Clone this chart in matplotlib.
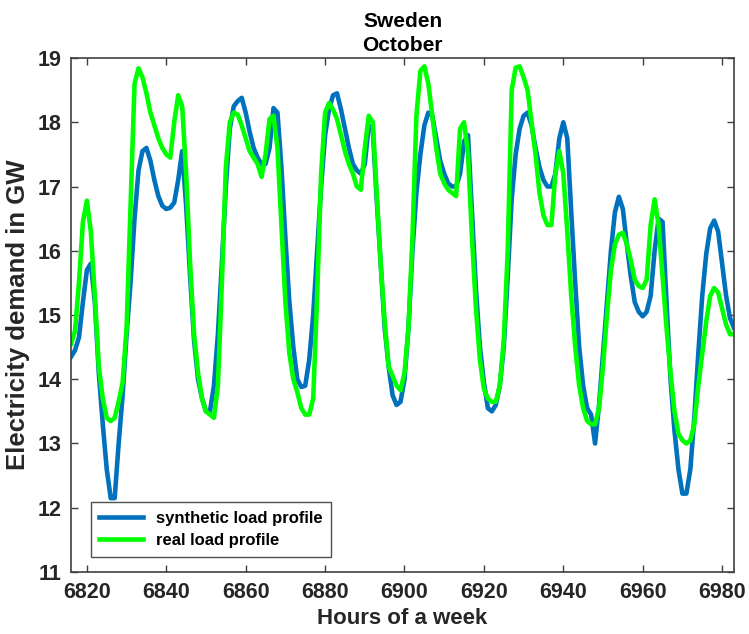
"""Synthetic vs. real load profile for Sweden, one week in October."""
import numpy as np
import matplotlib
matplotlib.use("Agg")
import matplotlib.pyplot as plt

plt.rcParams["font.family"] = ["Liberation Sans", "DejaVu Sans"]
plt.rcParams["font.weight"] = "bold"

# hours 6816 ... 6983 (one week)
hours = np.arange(6816, 6984)

# synthetic load profile, GW (one value per hour)
synthetic = [
    14.35, 14.45, 14.65, 15.2, 15.7, 15.8, 15.2, 14.1, 13.3, 12.6, 12.15, 12.15,
    13.0, 13.75, 14.7, 15.5, 16.5, 17.25, 17.55, 17.6, 17.4, 17.1, 16.85, 16.7,
    16.65, 16.67, 16.75, 17.1, 17.55, 16.7, 15.6, 14.6, 14.0, 13.7, 13.5, 13.5,
    13.9, 14.7, 15.8, 17.0, 17.9, 18.25, 18.33, 18.38, 18.15, 17.85, 17.6, 17.45,
    17.35, 17.35, 17.6, 18.22, 18.15, 17.3, 16.2, 15.2, 14.5, 14.0, 13.88, 13.9,
    14.3, 15.0, 16.0, 17.0, 17.8, 18.2, 18.42, 18.45, 18.2, 17.9, 17.6, 17.35,
    17.25, 17.2, 17.35, 17.95, 17.9, 16.8, 15.8, 14.8, 14.2, 13.75, 13.6, 13.65,
    14.0, 14.8, 16.0, 16.9, 17.5, 17.95, 18.15, 18.1, 17.75, 17.4, 17.2, 17.05,
    17.0, 17.0, 17.2, 17.7, 17.8, 16.6, 15.4, 14.5, 13.95, 13.55, 13.5, 13.6,
    13.9, 14.5, 15.6, 16.8, 17.5, 17.9, 18.1, 18.15, 17.95, 17.6, 17.3, 17.1,
    17.0, 17.0, 17.2, 17.75, 18.0, 17.75, 16.6, 15.5, 14.5, 13.9, 13.55, 13.45,
    13.0, 13.6, 14.4, 15.2, 16.0, 16.6, 16.84, 16.65, 16.1, 15.6, 15.2, 15.05,
    14.98, 15.05, 15.3, 16.0, 16.5, 16.45, 15.2, 14.0, 13.2, 12.6, 12.22, 12.22,
    12.6, 13.4, 14.4, 15.3, 15.95, 16.35, 16.47, 16.3, 15.8, 15.3, 14.95, 14.8,
]

# real load profile, GW
real = [
    14.55, 14.75, 15.5, 16.45, 16.78, 16.3, 15.3, 14.2, 13.7, 13.4, 13.35, 13.4,
    13.65, 13.95, 14.8, 16.7, 18.6, 18.84, 18.7, 18.45, 18.15, 17.95, 17.75, 17.6,
    17.5, 17.45, 18.0, 18.42, 18.25, 17.2, 15.8, 14.7, 14.1, 13.7, 13.5, 13.45,
    13.4, 13.9, 15.5, 17.3, 18.0, 18.15, 18.12, 17.95, 17.75, 17.55, 17.45, 17.35,
    17.15, 17.5, 18.05, 18.1, 17.6, 16.4, 15.2, 14.4, 14.0, 13.8, 13.55, 13.45,
    13.45, 13.7, 15.3, 17.2, 18.15, 18.3, 18.2, 18.05, 17.8, 17.55, 17.35, 17.2,
    17.0, 16.95, 17.6, 18.1, 18.0, 16.9, 15.8, 14.9, 14.2, 14.05, 13.9, 13.83,
    14.1, 14.8, 16.2, 18.1, 18.8, 18.87, 18.6, 18.1, 17.6, 17.2, 17.05, 16.95,
    16.9, 16.85, 17.9, 18.0, 17.5, 16.2, 15.1, 14.3, 13.85, 13.7, 13.65, 13.65,
    13.9, 14.6, 16.0, 18.5, 18.85, 18.87, 18.7, 18.5, 18.0, 17.5, 16.9, 16.55,
    16.4, 16.4, 17.2, 17.55, 17.2, 16.3, 15.3, 14.5, 13.9, 13.55, 13.35, 13.3,
    13.3, 13.55, 14.2, 15.0, 15.7, 16.1, 16.25, 16.28, 16.1, 15.85, 15.55, 15.45,
    15.42, 15.55, 16.4, 16.8, 16.4, 15.6, 14.8, 14.1, 13.5, 13.15, 13.05, 13.0,
    13.05, 13.3, 13.9, 14.4, 14.9, 15.3, 15.42, 15.35, 15.1, 14.85, 14.7, 14.7,
]

xticks = list(range(6820, 6981, 20))
yticks = list(range(11, 20))

fig = plt.figure(figsize=(7.49, 6.34), dpi=100)
ax = fig.add_axes([0.0948, 0.0978, 0.8852, 0.8107])

ax.plot(hours, synthetic, color="#0072BD", linewidth=3.3, label="synthetic load profile")
ax.plot(hours, real, color="#00FF00", linewidth=3.3, label="real load profile")

ax.set_xlim(6816, 6983)
ax.set_ylim(11, 19)
ax.set_xticks(xticks)
ax.set_yticks(yticks)
ax.tick_params(direction="in", top=True, right=True, length=5, width=1,
               colors="#404040", labelcolor="#262626", labelsize=15.5)
ax.tick_params(axis="x", pad=7)
ax.tick_params(axis="y", pad=7)
for sp in ax.spines.values():
    sp.set_color("#404040")
    sp.set_linewidth(1.2)

ax.set_xlabel("Hours of a week", fontsize=16, fontweight="bold", color="#262626", labelpad=4)
ax.set_ylabel("Electricity demand in GW", fontsize=18.5, fontweight="bold", color="#262626", labelpad=5)
ax.set_title("Sweden\nOctober", fontsize=15, fontweight="bold", color="black", pad=5, linespacing=1.35)

leg = ax.legend(loc="lower left", bbox_to_anchor=(0.03, 0.03), borderaxespad=0,
                fontsize=12, frameon=True, fancybox=False, handlelength=2.6,
                borderpad=0.5, labelspacing=0.45)
leg.get_frame().set_edgecolor("#262626")
leg.get_frame().set_linewidth(1.0)

fig.savefig("out.png", dpi=100)
